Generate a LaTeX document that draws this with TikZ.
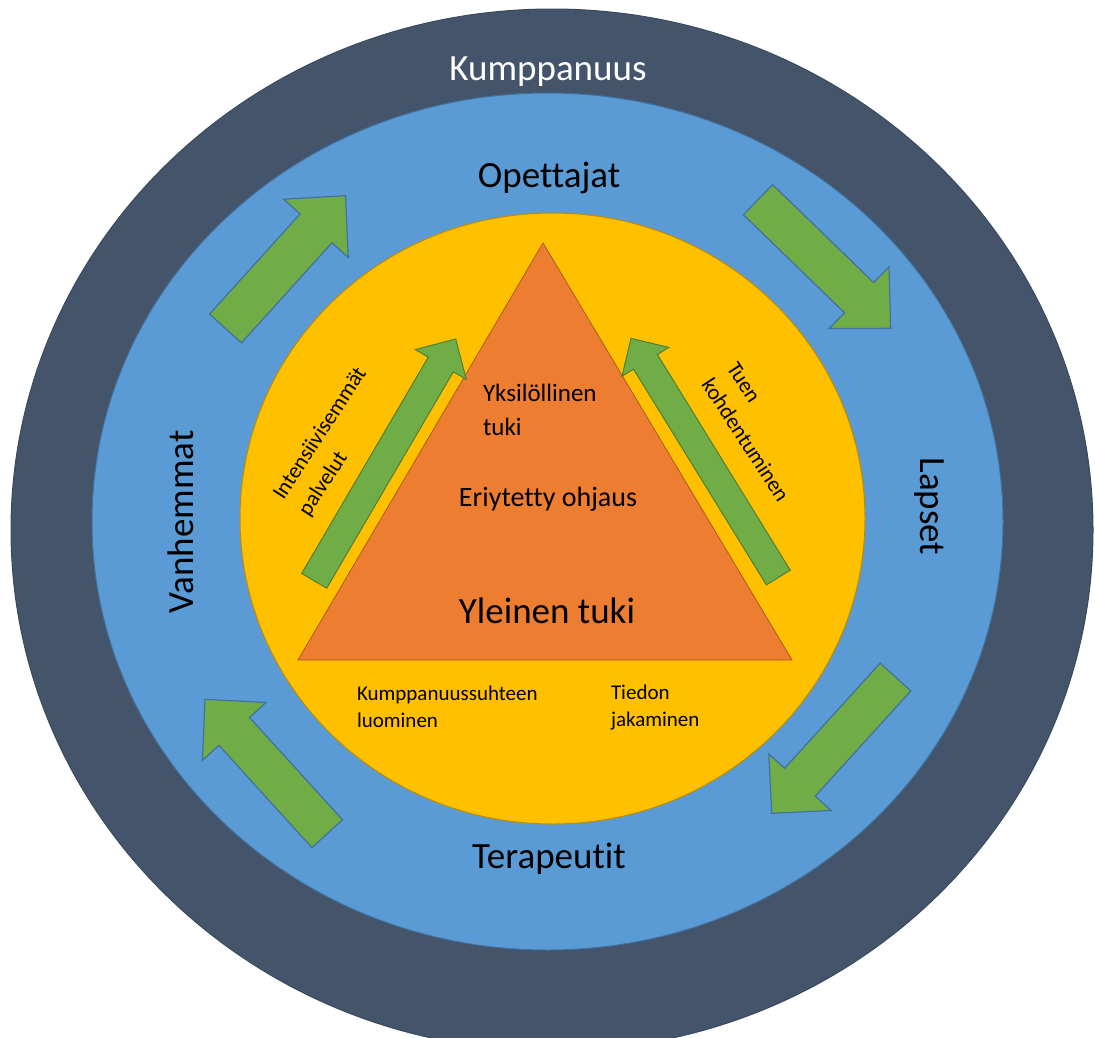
\documentclass[tikz,border=0pt]{standalone}
\usepackage{fontspec}
\setmainfont[Ligatures=NoCommon]{Carlito}
\usetikzlibrary{calc,shapes.geometric}
\definecolor{ringdark}{HTML}{44546A}
\definecolor{ringdarkline}{HTML}{3A4A5E}
\definecolor{ringblue}{HTML}{5B9BD5}
\definecolor{ringblueline}{HTML}{41719C}
\definecolor{ringyellow}{HTML}{FFC000}
\definecolor{ringyellowline}{HTML}{BC8C00}
\definecolor{triorange}{HTML}{ED7D31}
\definecolor{trioline}{HTML}{AE5A21}
\definecolor{arrowgreen}{HTML}{70AD47}
\definecolor{arrowgreenline}{HTML}{507E32}
% #1 style, #2 tail coordinate, #3 tip coordinate, #4 shaft half width, #5 head half width, #6 head length
\newcommand\blockarrow[6]{%
  \path ($(#3)!#6!(#2)$) coordinate (#2-hb);
  \draw[#1] ($(#2)!#4!90:(#3)$) -- ($(#2-hb)!#4!90:(#3)$) -- ($(#2-hb)!#5!90:(#3)$)
    -- (#3) -- ($(#2-hb)!#5!-90:(#3)$) -- ($(#2-hb)!#4!-90:(#3)$) -- ($(#2)!#4!-90:(#3)$) -- cycle;}
\begin{document}
\begin{tikzpicture}[x=1pt,y=-1pt,
  ring/.style={ellipse, inner sep=0pt, outer sep=0pt, line width=1pt},
  outerarrow/.style={fill=arrowgreen, draw=ringblueline, line width=1.2pt, line join=miter},
  innerarrow/.style={fill=arrowgreen, draw=arrowgreenline, line width=1pt, line join=miter},
  lbl/.style={inner sep=0pt, outer sep=0pt, text=black},
  bigtext/.style={font=\fontsize{37}{44}\selectfont},
  midtext/.style={font=\fontsize{28}{34}\selectfont},
  smalltext/.style={font=\fontsize{21}{27}\selectfont, align=left},
  sidetext/.style={font=\fontsize{22}{30}\selectfont, align=left}]
\useasboundingbox (0,0) rectangle (1095,1037);
\clip (0,0) rectangle (1095,1037);
\fill[white] (0,0) rectangle (1095,1037);

% rings
\node[ring, fill=ringdark, draw=ringdarkline, minimum width=1082pt, minimum height=1042pt] (outer) at (552,530) {};
\node[ring, fill=ringblue, draw=ringblueline, minimum width=911pt, minimum height=857pt] (blue) at (547.5,521.5) {};
\node[ring, fill=ringyellow, draw=ringyellowline, minimum width=625pt, minimum height=611pt] (yellow) at (552.5,518.5) {};

% triangle
\coordinate (apex) at (543,243);
\coordinate (bl) at (298,660);
\coordinate (br) at (792,660);
\draw[fill=triorange, draw=trioline, line width=0.8pt] (apex) -- (bl) -- (br) -- cycle;

% outer arrows
\coordinate (a1t) at (225.5,328.5); \coordinate (a1h) at (345.5,195.7);
\coordinate (a2t) at (758,199.7);   \coordinate (a2h) at (890.7,328.3);
\coordinate (a3t) at (895.5,677);   \coordinate (a3h) at (771.7,813.3);
\coordinate (a4t) at (327.2,833.7); \coordinate (a4h) at (205,699.3);
\blockarrow{outerarrow}{a1t}{a1h}{21.5pt}{43.5pt}{44pt}
\blockarrow{outerarrow}{a2t}{a2h}{21pt}{43pt}{44pt}
\blockarrow{outerarrow}{a3t}{a3h}{20.7pt}{42pt}{42pt}
\blockarrow{outerarrow}{a4t}{a4h}{20.7pt}{43pt}{43.4pt}

% inner arrows
\coordinate (i1t) at (314.2,580.8); \coordinate (i1h) at (455.7,339);
\coordinate (i2t) at (778.3,577.5); \coordinate (i2h) at (631,338.4);
\blockarrow{innerarrow}{i1t}{i1h}{14.5pt}{29.5pt}{29.5pt}
\blockarrow{innerarrow}{i2t}{i2h}{14pt}{27.5pt}{27.5pt}

% ring labels
\node[lbl, bigtext, text=white, anchor=base] (kump) at (548,80) {Kumppanuus};
\node[lbl, bigtext, anchor=base] (opet) at (549,187) {Opettajat};
\node[lbl, bigtext, anchor=base] (tera) at (549,868) {Terapeutit};
\node[lbl, bigtext, anchor=base, rotate=90] (vanh) at (193.3,522) {Vanhemmat};
\node[lbl, bigtext, anchor=base, rotate=-90] (laps) at (920,506.5) {Lapset};

% triangle labels
\node[lbl, font=\fontsize{25}{34}\selectfont, align=left, anchor=north west] (yksi) at (483,384) {Yksilöllinen\\tuki};
\node[lbl, midtext, anchor=base] (eriy) at (548,506) {Eriytetty ohjaus};
\node[lbl, bigtext, anchor=base] (ylei) at (547,623) {Yleinen tuki};

% yellow ring labels
\node[lbl, smalltext, anchor=north west] (kuso) at (357,686) {Kumppanuussuhteen\\luominen};
\node[lbl, smalltext, anchor=north west] (tied) at (611,685) {Tiedon\\jakaminen};
\node[lbl, sidetext, rotate=57] (inte) at (333,442) {Intensiivisemmät\\palvelut};
\node[lbl, sidetext, rotate=-57] (tuen) at (758,432) {Tuen\\kohdentuminen};
\end{tikzpicture}
\end{document}
